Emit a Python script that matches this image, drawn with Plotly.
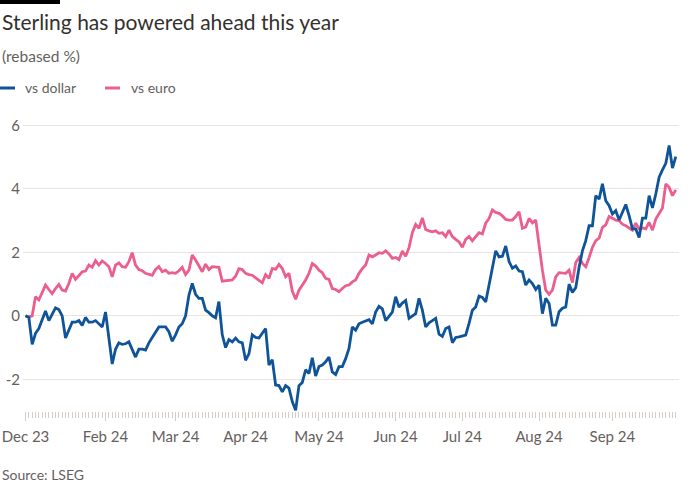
import pandas as pd
import plotly.graph_objects as go

# ---------------- data ----------------
start_date = "2023-12-29"
end_date = "2024-09-27"

vs_dollar = [
    0.0, -0.05, -0.9, -0.55, -0.4, -0.15, 0.15, -0.15, 0.05, 0.25,
    0.2, 0.0, -0.7, -0.45, -0.2, -0.2, -0.15, -0.3, -0.05, -0.2,
    -0.2, -0.15, -0.25, -0.35, 0.12, -0.75, -1.52, -1.05, -0.85, -0.9,
    -0.88, -0.82, -1.05, -1.3, -1.05, -1.05, -1.08, -0.85, -0.68, -0.5,
    -0.35, -0.35, -0.35, -0.5, -0.8, -0.6, -0.35, -0.25, 0.0, 0.65,
    1.02, 0.68, 0.55, 0.55, 0.18, 0.1, 0.0, -0.06, 0.45, -0.6,
    -1.0, -0.75, -0.82, -0.7, -0.82, -0.85, -1.4, -1.2, -0.6, -0.68,
    -0.7, -0.55, -0.4, -1.55, -1.38, -2.18, -2.2, -2.4, -2.2, -2.28,
    -2.7, -2.98, -2.2, -2.1, -1.7, -1.82, -1.32, -1.9, -1.6, -1.55,
    -1.45, -1.3, -1.77, -1.85, -1.6, -1.6, -1.35, -1.03, -0.35, -0.45,
    -0.25, -0.2, -0.15, -0.12, -0.25, 0.12, 0.3, 0.22, -0.15, 0.0,
    0.12, 0.6, 0.28, 0.4, 0.48, -0.08, 0.0, 0.07, 0.55, 0.18,
    -0.35, -0.22, -0.15, -0.08, -0.58, -0.65, -0.4, -0.35, -0.85, -0.68,
    -0.66, -0.64, -0.61, -0.24, 0.18, 0.28, 0.62, 0.58, 0.44, 0.97,
    1.55, 2.05, 1.86, 1.88, 2.2, 1.71, 1.5, 1.57, 1.41, 1.39,
    0.97, 1.13, 1.02, 0.83, 0.97, 0.07, 0.55, 0.39, -0.29, -0.29,
    0.13, 0.24, 0.28, 1.0, 0.74, 0.89, 1.53, 2.05, 2.37, 2.84,
    2.84, 3.79, 3.68, 4.16, 3.63, 3.47, 3.21, 3.32, 3.02, 3.26,
    3.51, 3.16, 2.74, 2.74, 2.47, 3.08, 3.08, 3.79, 3.4, 3.84,
    4.37, 4.6, 4.81, 5.37, 4.66, 5.02,
]

vs_euro = [
    0.0, -0.03, 0.0, 0.6, 0.5, 0.75, 0.97, 0.83, 0.7, 0.86,
    0.99, 0.81, 0.78, 1.02, 1.34, 1.15, 1.28, 1.39, 1.41, 1.6,
    1.53, 1.74, 1.6, 1.73, 1.65, 1.55, 1.23, 1.6, 1.67, 1.55,
    1.53, 1.71, 1.99, 1.6, 1.46, 1.42, 1.34, 1.3, 1.28, 1.46,
    1.55, 1.39, 1.44, 1.34, 1.36, 1.34, 1.42, 1.53, 1.3, 1.44,
    1.92, 1.76, 1.55, 1.39, 1.63, 1.46, 1.55, 1.55, 1.53, 1.09,
    1.1, 1.12, 1.13, 1.25, 1.49, 1.46, 1.34, 1.3, 1.28, 1.2,
    1.13, 1.04, 1.3, 1.18, 1.49, 1.47, 1.62, 1.49, 1.23, 1.34,
    0.78, 0.52, 0.81, 0.97, 1.13, 1.34, 1.65, 1.57, 1.44, 1.36,
    1.18, 1.15, 0.86, 0.83, 0.76, 0.86, 0.95, 0.97, 1.07, 1.13,
    1.34, 1.49, 1.6, 1.92, 1.86, 1.92, 1.99, 1.97, 2.05, 1.95,
    1.81, 1.84, 1.77, 2.04, 1.88, 2.15, 2.62, 2.88, 2.76, 3.09,
    2.72, 2.68, 2.65, 2.68, 2.6, 2.62, 2.5, 2.7, 2.5, 2.41,
    2.33, 2.16, 2.41, 2.5, 2.37, 2.5, 2.62, 2.58, 2.92, 3.07,
    3.34, 3.26, 3.23, 3.15, 3.04, 3.02, 3.02, 3.13, 3.28, 2.76,
    2.8, 3.07, 2.93, 3.02, 2.18, 1.44, 0.81, 0.68, 0.81, 1.23,
    1.36, 1.34, 1.34, 1.44, 1.05, 1.68, 1.84, 1.65, 1.55, 1.84,
    2.16, 2.37, 2.45, 2.79, 2.87, 3.13, 3.08, 3.02, 3.0, 2.89,
    2.84, 2.77, 2.7, 2.92, 2.74, 2.77, 2.74, 2.95, 2.7, 3.05,
    3.21, 3.4, 4.16, 4.05, 3.79, 3.97,
]

tick_dates = ["2023-12-29", "2024-02-01", "2024-03-01", "2024-04-01", "2024-05-01",
              "2024-06-03", "2024-07-01", "2024-08-01", "2024-09-02"]
tick_labels = ["Dec 23", "Feb 24", "Mar 24", "Apr 24", "May 24",
               "Jun 24", "Jul 24", "Aug 24", "Sep 24"]
y_ticks = [-2, 0, 2, 4, 6]

title_text = "Sterling has powered ahead this year"
subtitle_text = "(rebased %)"
source_text = "Source: LSEG"
series_names = ["vs dollar", "vs euro"]

# ---------------- styling ----------------
dates = pd.bdate_range(start_date, end_date)
BLUE = "#0f5499"
PINK = "#eb5e8d"
GRID = "#ebe3dc"
TICK = "#d6ccc4"
TEXT = "#66605c"
DARK = "#33302e"
FONT = "Lato"

W, H = 700, 500
L, R, T, B = 23, 21, 116, 89
PW, PH = W - L - R, H - T - B


def px(x):
    return (x - L) / PW


def py(y):
    return (H - B - y) / PH


fig = go.Figure()
fig.add_trace(go.Scatter(x=dates, y=vs_euro, mode="lines", name=series_names[1],
                         line=dict(color=PINK, width=2.8), hoverinfo="skip"))
fig.add_trace(go.Scatter(x=dates, y=vs_dollar, mode="lines", name=series_names[0],
                         line=dict(color=BLUE, width=2.8), hoverinfo="skip"))

fig.update_layout(
    width=W, height=H,
    margin=dict(l=L, r=R, t=T, b=B, pad=0, autoexpand=False),
    paper_bgcolor="white", plot_bgcolor="white",
    showlegend=False,
    font=dict(family=FONT, color=TEXT, size=14),
)

fig.update_xaxes(
    type="date", automargin=False,
    range=["2023-12-28 06:00", "2024-09-27 23:00"],
    rangebreaks=[dict(bounds=["sat", "mon"])],
    tickmode="array", tickvals=tick_dates, ticktext=tick_labels,
    ticks="outside", ticklen=9, tickcolor=TICK, tickwidth=1,
    ticklabelstandoff=3,
    tickfont=dict(size=15, color=TEXT, family=FONT),
    showgrid=False, showline=False, zeroline=False,
    minor=dict(ticks="outside", ticklen=6, tickcolor=TICK, tickwidth=1,
               dtick=86400000, tick0="2023-12-29", showgrid=False),
)
fig.update_yaxes(
    automargin=False,
    range=[-3, 6.3],
    tickmode="array", tickvals=y_ticks, ticktext=[str(v) for v in y_ticks],
    showgrid=True, gridcolor=GRID, gridwidth=1,
    zeroline=False, showline=False, ticks="",
    ticklabelstandoff=2,
    tickfont=dict(size=15, color=TEXT, family=FONT),
)

shapes = [
    dict(type="rect", xref="paper", yref="paper", x0=px(0), x1=px(60), y0=py(4), y1=py(0),
         fillcolor="black", line=dict(width=0)),
    dict(type="line", xref="paper", yref="paper", x0=px(0), x1=px(15), y0=py(88), y1=py(88),
         line=dict(color=BLUE, width=3)),
    dict(type="line", xref="paper", yref="paper", x0=px(105), x1=px(120), y0=py(88), y1=py(88),
         line=dict(color=PINK, width=3)),
]
fig.update_layout(shapes=shapes)

annots = [
    dict(text=title_text, x=px(0), y=py(22), font=dict(size=21, color=DARK, family=FONT)),
    dict(text=subtitle_text, x=px(0), y=py(56), font=dict(size=15.5, color=TEXT, family=FONT)),
    dict(text=series_names[0], x=px(23), y=py(88), font=dict(size=14, color=TEXT, family=FONT)),
    dict(text=series_names[1], x=px(129), y=py(88), font=dict(size=14, color=TEXT, family=FONT)),
    dict(text=source_text, x=px(0), y=py(474), font=dict(size=14, color=TEXT, family=FONT)),
]
for a in annots:
    fig.add_annotation(xref="paper", yref="paper", xanchor="left", yanchor="middle",
                       showarrow=False, **a)

fig.write_html(
    "out.html",
    config={"displayModeBar": False, "staticPlot": True},
    post_script="document.body.style.margin='0';document.body.style.overflow='hidden';",
)
